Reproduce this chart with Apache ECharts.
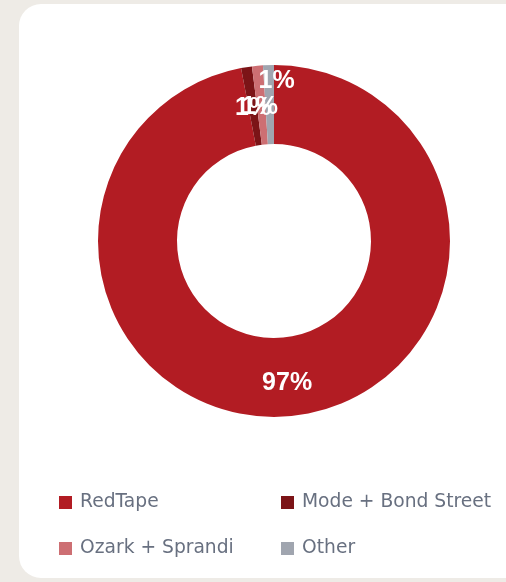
<!DOCTYPE html>
<html>
<head>
<meta charset="utf-8">
<script src="https://cdn.jsdelivr.net/npm/echarts@6/dist/echarts.min.js"></script>
<style>
  html, body { margin: 0; padding: 0; background: #eeebe6; }
  .card { position: absolute; left: 19px; top: 4px; width: 520px; height: 574px;
          background: #ffffff; border-radius: 22px; }
  #main { position: absolute; left: 0; top: 0; width: 506px; height: 582px; }
</style>
</head>
<body>
<div class="card"></div>
<div id="main"></div>
<script>
    var brands = ['RedTape', 'Mode + Bond Street', 'Ozark + Sprandi', 'Other'];
    var shares = [97, 1, 1, 1];
    var colors = ['#b21c23', '#7c1417', '#cd6f73', '#a0a5af'];

    var chartDom = document.getElementById('main');
    var myChart = echarts.init(chartDom);
    var option;

    var legendText = {
        color: '#687080',
        fontFamily: 'DejaVu Sans',
        fontSize: 18.7,
        padding: [0, 0, 0, 3]
    };

    function legendCol(left, names) {
        return {
            orient: 'vertical',
            left: left,
            top: 488,
            itemWidth: 13,
            itemHeight: 13,
            itemGap: 27,
            icon: 'rect',
            textStyle: legendText,
            selectedMode: false,
            data: names
        };
    }

    option = {
        color: colors,
        legend: [
            legendCol(54, [brands[0], brands[2]]),
            legendCol(276, [brands[1], brands[3]])
        ],
        series: [
            {
                name: 'Share',
                type: 'pie',
                center: [274, 241],
                radius: [97, 176],
                startAngle: 90,
                clockwise: true,
                silent: true,
                labelLayout: { hideOverlap: false },
                label: {
                    show: true,
                    position: 'inside',
                    formatter: '{c}%',
                    color: '#ffffff',
                    fontFamily: 'Liberation Sans',
                    fontWeight: 'bold',
                    fontSize: 25
                },
                labelLine: { show: false },
                data: brands.map(function (b, i) {
                    var item = { name: b, value: shares[i] };
                    if (i === 0) {
                        item.label = { offset: [0, 3] };
                    } else if (i === 1) {
                        item.label = { offset: [1, 5] };
                    } else if (i === 2) {
                        item.label = { offset: [-1, 5] };
                    } else {
                        // Other's label sits higher, like the original
                        item.label = { offset: [7, -20] };
                    }
                    return item;
                })
            }
        ]
    };

    option && myChart.setOption(option);
</script>
</body>
</html>
